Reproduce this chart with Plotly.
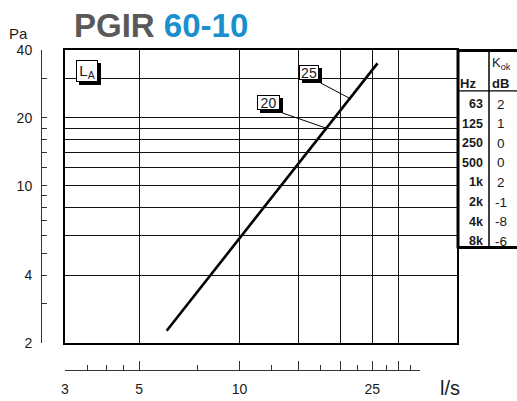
import numpy as np
import plotly.graph_objects as go

# ---------------- data ----------------
flow = [6.05, 25.9]          # l/s (line end points)
pressure = [2.27, 34.9]      # Pa
label_flow = [18.2, 21.4]    # where the level labels point on the curve
label_text = ['20', '25']

hz_labels = ['63', '125', '250', '500', '1k', '2k', '4k', '8k']
kok_values = ['2', '1', '0', '0', '2', '-1', '-8', '-6']

x_tick_major = [3, 5, 10, 15, 20, 25, 30]
x_tick_major_text = ['3', '5', '10', '', '', '25', '']
x_tick_minor = [3.5, 4, 4.5, 7.5, 12.5, 17.5, 22.5, 27.5, 32.5]
x_grid = [5, 10, 15, 20, 25, 30]

y_ticks = [2, 3, 4, 5, 6, 7, 8, 9, 10, 12, 14, 16, 18, 20, 30, 40]
y_tick_text = ['2', '', '4', '', '', '', '', '', '10', '', '', '', '', '20', '', '40']
y_grid = [4, 6, 8, 10, 12, 14, 16, 18, 20, 30]

# ---------------- geometry ----------------
W = 517
H_REF = 401
H = 409                      # rendered height (page is captured slightly taller)
SY = H / H_REF


def Y(v):
    return v * SY


PL, PR = 65, 457
PT, PB = Y(49), Y(343)       # plot box (px)
ML, MB = 41, Y(370)          # left tick axis x, bottom tick axis y (px)
paper_w = PR - ML
paper_h = MB - PT


def px(xp):
    return (xp - ML) / paper_w


def py(yp_ref):
    return (MB - Y(yp_ref)) / paper_h


XMIN = np.log10(3)
XMAX = 1.6515
YMIN = np.log10(2)
YMAX = np.log10(40)
ppd_x = (PR - PL) / (XMAX - XMIN)
X2MAX = XMIN + (420 - PL) / ppd_x


def data_px(f, p):
    """pixel position (x, reference-y) of a data point"""
    xp = PL + (np.log10(f) - XMIN) * ppd_x
    yp = 343 - (np.log10(p) - YMIN) * (343 - 49) / (YMAX - YMIN)
    return xp, yp


def curve_p(f):
    lf = np.log10(flow)
    lp = np.log10(pressure)
    return 10 ** np.interp(np.log10(f), lf, lp)


FONT = "Liberation Sans, Arial, sans-serif"
TXT = "#1a1a1a"

fig = go.Figure()
fig.add_trace(go.Scatter(x=flow, y=pressure, mode='lines',
                         line=dict(color='black', width=2.6),
                         hoverinfo='skip', showlegend=False))
# helper traces so the tick-only axes are drawn
fig.add_trace(go.Scatter(x=[flow[0]], y=[pressure[0]], xaxis='x2', yaxis='y',
                         mode='markers', marker=dict(opacity=0),
                         hoverinfo='skip', showlegend=False))
fig.add_trace(go.Scatter(x=[flow[0]], y=[pressure[0]], xaxis='x', yaxis='y2',
                         mode='markers', marker=dict(opacity=0),
                         hoverinfo='skip', showlegend=False))


def hline(x0, x1, y, w):
    return dict(type='line', xref='paper', yref='paper', x0=px(x0), x1=px(x1),
                y0=py(y), y1=py(y), line=dict(color='black', width=w))


def vline(x, y0, y1, w):
    return dict(type='line', xref='paper', yref='paper', x0=px(x), x1=px(x),
                y0=py(y0), y1=py(y1), line=dict(color='black', width=w))


shapes = [
    vline(458, 48, 248, 3),
    hline(457, 518, 49.5, 3),
    hline(457, 518, 247, 3),
    vline(489, 49, 247, 1.5),
    hline(457, 518, 90, 1.2),
]

# leader lines from label boxes to the curve
leader_start = [(282, 112), (320.5, 82)]
for (sx, sy), f in zip(leader_start, label_flow):
    ex, ey = data_px(f, curve_p(f))
    shapes.append(dict(type='line', xref='paper', yref='paper',
                       x0=px(sx), y0=py(sy), x1=px(ex), y1=py(ey),
                       line=dict(color='black', width=1)))

ann = []


def text_at(x, y, text, size, family=FONT, xanchor='center', color=TXT):
    ann.append(dict(xref='paper', yref='paper', x=px(x), y=py(y), xanchor=xanchor,
                    yanchor='middle', showarrow=False, text=text,
                    font=dict(family=family, size=size, color=color)))


# title
text_at(72, 24, "<b>PGIR <span style='color:#1b8fce'>60-10</span></b>", 33,
        xanchor='left', color='#595959')
text_at(18, 32, 'Pa', 15)
text_at(450, 388, 'l/s', 20)

# table
text_at(501, 63, 'K<sub>ok</sub>', 13)
text_at(467.5, 83, '<b>Hz</b>', 13)
text_at(500, 83, '<b>dB</b>', 13)
row0, drow = 103.5, 19.6
for i, (hz, k) in enumerate(zip(hz_labels, kok_values)):
    yy = row0 + i * drow
    text_at(485, yy, f'<b>{hz}</b>', 12.5, xanchor='right')
    text_at(501, yy, k, 13.5)


def shadow_box(cx, cy, w, h, text, size):
    base = dict(xref='paper', yref='paper', x=px(cx), y=py(cy), xanchor='center',
                yanchor='middle', showarrow=False, width=w - 2, height=Y(h) - 2,
                borderwidth=1, borderpad=0, text=text)
    s = dict(base, bgcolor='black', bordercolor='black', xshift=3, yshift=-Y(3),
             font=dict(family=FONT, size=size, color='black'))
    b = dict(base, bgcolor='white', bordercolor='black',
             font=dict(family=FONT, size=size, color=TXT))
    return [s, b]


ann += shadow_box(86.8, 70.5, 22, 22, 'L<sub>A</sub>', 15)
ann += shadow_box(268.7, 101.2, 23, 15, label_text[0], 14)
ann += shadow_box(308.5, 71.5, 20, 15, label_text[1], 14)

fig.update_layout(
    width=W, height=H, autosize=False,
    margin=dict(l=ML, r=W - PR, t=PT, b=H - MB, pad=0),
    paper_bgcolor='white', plot_bgcolor='rgba(0,0,0,0)',
    showlegend=False,
    font=dict(family=FONT, size=14, color=TXT),
    xaxis=dict(type='log', domain=[px(PL), 1], range=[XMIN, XMAX], anchor='y',
               tickvals=x_grid, showticklabels=False, ticks='',
               showgrid=True, gridcolor='#111111', gridwidth=1,
               showline=True, linecolor='black', linewidth=2, mirror=True,
               zeroline=False, fixedrange=True),
    yaxis=dict(type='log', domain=[py(343), 1], range=[YMIN, YMAX], anchor='x',
               tickvals=y_grid, showticklabels=False, ticks='',
               showgrid=True, gridcolor='#111111', gridwidth=1,
               showline=True, linecolor='black', linewidth=2, mirror=True,
               zeroline=False, fixedrange=True),
    xaxis2=dict(type='log', domain=[px(PL), px(420)], range=[XMIN, X2MAX],
                anchor='free', position=0,
                tickmode='array', tickvals=x_tick_major, ticktext=x_tick_major_text,
                ticks='inside', ticklen=9, tickwidth=1, tickcolor='#333333',
                minor=dict(tickmode='array', tickvals=x_tick_minor, ticks='inside',
                           ticklen=5, tickwidth=1, tickcolor='#333333', showgrid=False),
                showline=True, linecolor='#333333', linewidth=1,
                showgrid=False, zeroline=False, ticklabelstandoff=6,
                tickfont=dict(family=FONT, size=14, color=TXT), fixedrange=True),
    yaxis2=dict(type='log', domain=[py(343), 1], range=[YMIN, YMAX],
                anchor='free', position=0,
                tickmode='array', tickvals=y_ticks, ticktext=y_tick_text,
                ticks='inside', ticklen=5, tickwidth=1, tickcolor='#333333',
                showline=True, linecolor='#333333', linewidth=1,
                showgrid=False, zeroline=False, ticklabelstandoff=6,
                tickfont=dict(family=FONT, size=14, color=TXT), fixedrange=True),
    shapes=shapes,
    annotations=ann,
)

fig.write_html("out.html", config={'displayModeBar': False, 'responsive': False},
               post_script="document.body.style.margin='0';document.body.style.overflow='hidden';")
